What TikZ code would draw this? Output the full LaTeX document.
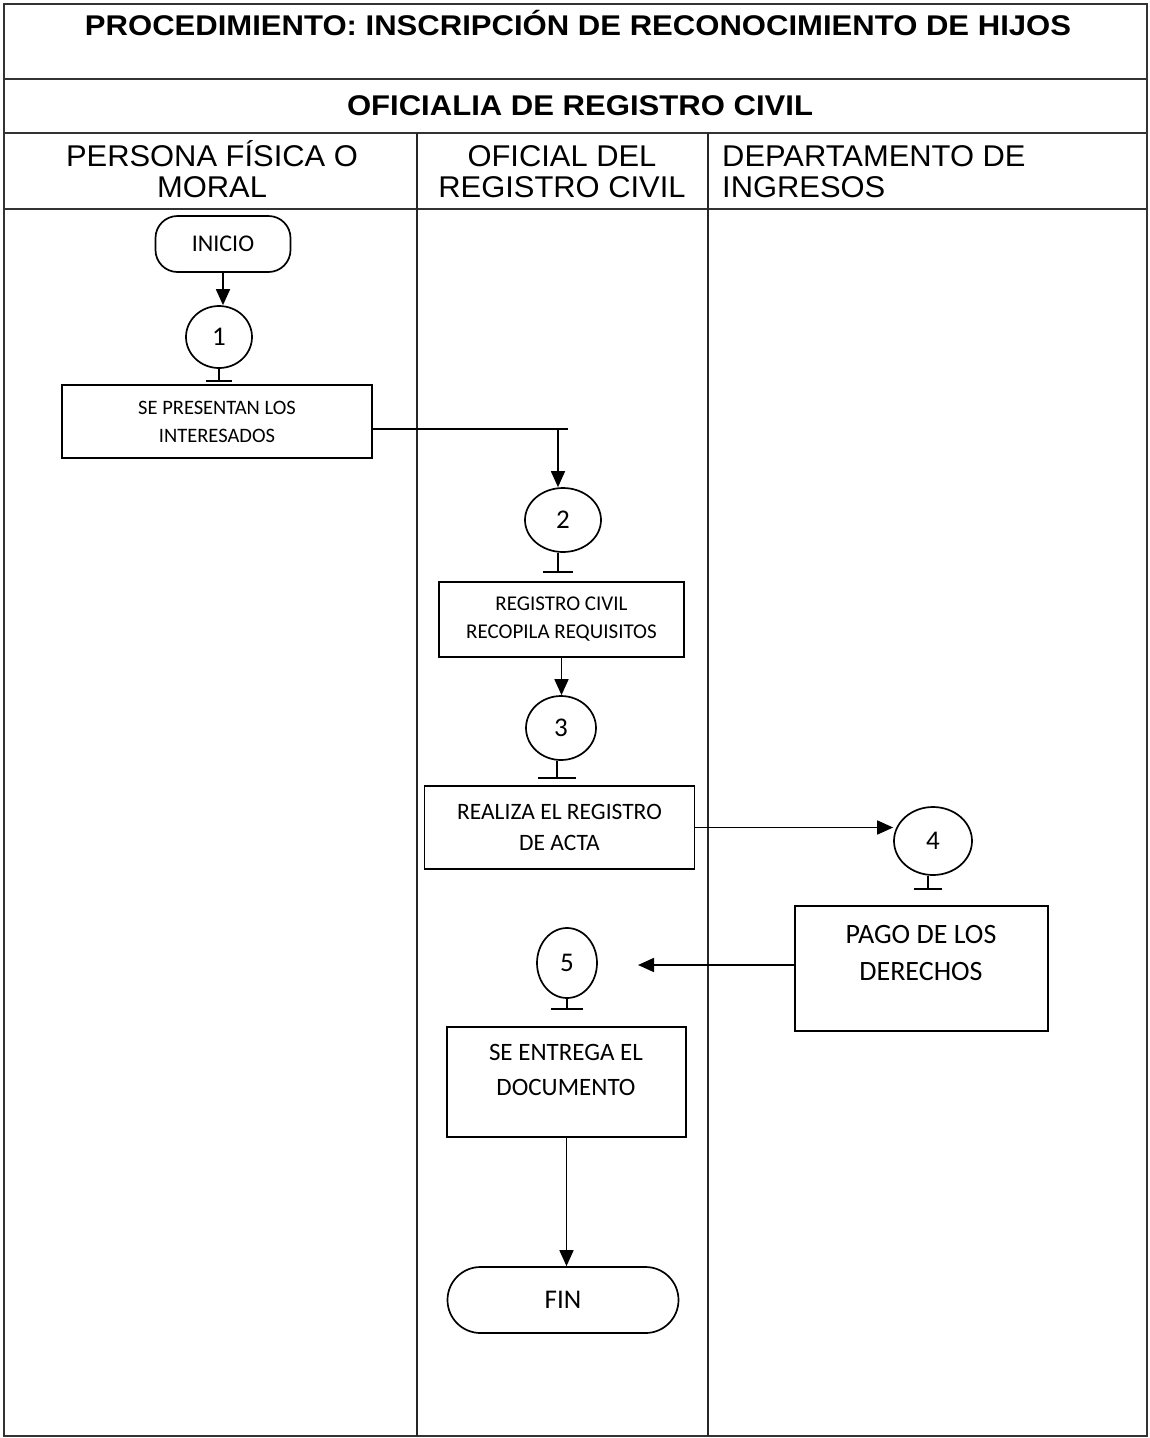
\documentclass[tikz,border=0pt]{standalone}
\usepackage{fontspec}
\usepackage{graphicx}
\setmainfont{Liberation Sans}
\newfontfamily\flowfont{Carlito}
\usetikzlibrary{arrows.meta,shapes.geometric}
\begin{document}
\begin{tikzpicture}[x=1pt,y=-1pt,
  frame/.style={line width=1.8pt, draw=black!80},
  lanerule/.style={line width=1.6pt, draw=black!85},
  headtitle/.style={inner sep=0pt, anchor=base, font=\bfseries\fontsize{28.5}{32}\selectfont},
  headlane/.style={inner sep=0pt, anchor=base, font=\fontsize{30}{32}\selectfont},
  stepbox/.style={draw, line width=1.7pt, rectangle, inner sep=0pt, align=center},
  steptext/.style={inner sep=0pt, align=center},
  term/.style={draw, line width=1.7pt, rectangle, inner sep=0pt},
  conn/.style={draw, ellipse, line width=1.7pt, inner sep=0pt,
               font=\flowfont\fontsize{27}{30}\selectfont},
  flow/.style={line width=1.7pt},
  arr/.style={flow, -{Triangle[length=16pt,width=14pt]}},
]
\useasboundingbox (0,0) rectangle (1150,1438);

% ---- table frame and swimlanes ----
\draw[frame] (4,4) rectangle (1147,1436);
\draw[frame] (4,79) -- (1147,79);
\draw[frame] (4,133) -- (1147,133);
\draw[frame] (4,209) -- (1147,209);
\draw[lanerule] (417,133) -- (417,1436);
\draw[lanerule] (708,133) -- (708,1436);

% ---- headings ----
\node[headtitle] (title) at (578,35)
  {\scalebox{1.09}[1]{PROCEDIMIENTO: INSCRIPCIÓN DE RECONOCIMIENTO DE HIJOS}};
\node[headtitle] (office) at (580,115)
  {\scalebox{1.09}[1]{OFICIALIA DE REGISTRO CIVIL}};

\node[headlane] (laneAa) at (212,166) {\scalebox{1.03}[1]{PERSONA FÍSICA O}};
\node[headlane] (laneAb) at (212,197) {\scalebox{1.03}[1]{MORAL}};
\node[headlane] (laneBa) at (562,166) {\scalebox{1.03}[1]{OFICIAL DEL}};
\node[headlane] (laneBb) at (562,197) {\scalebox{1.03}[1]{REGISTRO CIVIL}};
\node[headlane, anchor=base west] (laneCa) at (722,166) {\scalebox{1.03}[1]{DEPARTAMENTO DE}};
\node[headlane, anchor=base west] (laneCb) at (722,197) {\scalebox{1.03}[1]{INGRESOS}};

% ---- flow shapes ----
\node[term, rounded corners=22pt, minimum width=135, minimum height=56,
      font=\flowfont\fontsize{24}{28}\selectfont] (inicio) at (223,244) {INICIO};

\node[conn, minimum width=66, minimum height=62] (c1) at (219,337) {1};
\coordinate (t1) at (219,381);
\node[stepbox, minimum width=310, minimum height=73,
      font=\flowfont\fontsize{20.5}{28}\selectfont] (box1) at (217,421.5)
      {SE PRESENTAN LOS\\INTERESADOS};

\node[conn, minimum width=76, minimum height=64] (c2) at (563,520) {2};
\coordinate (t2) at (558,572);
\node[stepbox, minimum width=245, minimum height=75,
      font=\flowfont\fontsize{21}{28}\selectfont] (box2) at (561.5,619.5)
      {REGISTRO CIVIL\\RECOPILA REQUISITOS};

\node[conn, minimum width=70, minimum height=64] (c3) at (561,728) {3};
\coordinate (t3) at (557,778);
\node[stepbox, minimum width=270, minimum height=83,
      font=\flowfont\fontsize{23.5}{31}\selectfont] (box3) at (559.5,827.5)
      {REALIZA EL REGISTRO\\DE ACTA};

\node[conn, minimum width=78, minimum height=68] (c4) at (933,841) {4};
\coordinate (t4) at (928,889);
\node[stepbox, minimum width=253, minimum height=125] (box4) at (921.5,968.5) {};
\node[steptext, font=\flowfont\fontsize{28}{37}\selectfont] (box4t) at (921,953)
      {PAGO DE LOS\\DERECHOS};
\coordinate (a4) at (638,965);

\node[conn, minimum width=60, minimum height=70] (c5) at (567,963) {5};
\coordinate (t5) at (567,1009);
\node[stepbox, minimum width=239, minimum height=110] (box5) at (566.5,1082) {};
\node[steptext, font=\flowfont\fontsize{25}{35}\selectfont] (box5t) at (566,1070)
      {SE ENTREGA EL\\DOCUMENTO};

\node[term, rounded corners=33pt, minimum width=231, minimum height=66,
      font=\flowfont\fontsize{27}{30}\selectfont] (fin) at (563,1300) {FIN};

% ---- connectors ----
\draw[arr] (inicio.south) -- (inicio.south |- c1.north);
\draw[flow] (c1.south) -- (t1);
\draw[flow] ([xshift=-13pt]t1) -- ([xshift=13pt]t1);

\coordinate (j1) at (558,429);
\coordinate (j1e) at (568,429);
\draw[flow] (box1.east |- j1) -- (j1e);
\draw[arr] (j1) -- (j1 |- c2.north);
\draw[flow] (t2 |- c2.south) -- (t2);
\draw[flow] ([xshift=-15pt]t2) -- ([xshift=15pt]t2);

\draw[arr] (box2.south) -- (box2.south |- c3.north);
\draw[flow] (t3 |- c3.south) -- (t3);
\draw[flow] ([xshift=-19pt]t3) -- ([xshift=19pt]t3);

\draw[arr] (box3.east) -- (box3.east -| c4.west);
\draw[flow] (t4 |- c4.south) -- (t4);
\draw[flow] ([xshift=-14pt]t4) -- ([xshift=14pt]t4);

\draw[arr] (box4.west |- a4) -- (a4);
\draw[flow] (c5.south) -- (t5);
\draw[flow] ([xshift=-16pt]t5) -- ([xshift=16pt]t5);

\draw[arr] (box5.south) -- (box5.south |- fin.north);
\end{tikzpicture}
\end{document}
